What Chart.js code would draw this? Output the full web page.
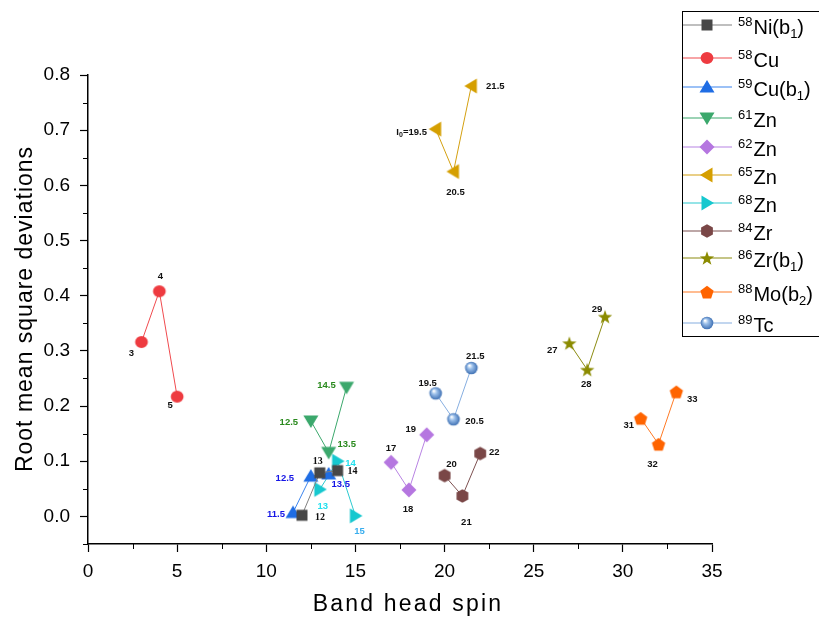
<!DOCTYPE html>
<html>
<head>
<meta charset="utf-8">
<script src="https://cdn.jsdelivr.net/npm/chart.js@4.4.0/dist/chart.umd.min.js"></script>
<style>
html, body { margin: 0; padding: 0; background: #fff; }
</style>
</head>
<body>
<canvas id="rmsChart" width="819" height="617"></canvas>
<script>
// band head spin (x) vs rms deviation (y), one group per nucleus
var ni58Spin = [12, 13, 14];
var ni58Rms = [0.002, 0.079, 0.083];
var ni58Labels = ['12', '13', '14'];

var cu58Spin = [3, 4, 5];
var cu58Rms = [0.316, 0.408, 0.217];
var cu58Labels = ['3', '4', '5'];

var cu59Spin = [11.5, 12.5, 13.5];
var cu59Rms = [0.007, 0.073, 0.077];
var cu59Labels = ['11.5', '12.5', '13.5'];

var zn61Spin = [12.5, 13.5, 14.5];
var zn61Rms = [0.173, 0.116, 0.234];
var zn61Labels = ['12.5', '13.5', '14.5'];

var zn62Spin = [17, 18, 19];
var zn62Rms = [0.098, 0.048, 0.148];
var zn62Labels = ['17', '18', '19'];

var zn65Spin = [19.5, 20.5, 21.5];
var zn65Rms = [0.702, 0.625, 0.780];
var zn65Labels = ['I_0=19.5', '20.5', '21.5'];

var zn68Spin = [13, 14, 15];
var zn68Rms = [0.049, 0.100, 0.001];
var zn68Labels = ['13', '14', '15'];

var zr84Spin = [20, 21, 22];
var zr84Rms = [0.074, 0.037, 0.114];
var zr84Labels = ['20', '21', '22'];

var zr86Spin = [27, 28, 29];
var zr86Rms = [0.314, 0.266, 0.362];
var zr86Labels = ['27', '28', '29'];

var mo88Spin = [31, 32, 33];
var mo88Rms = [0.178, 0.131, 0.226];
var mo88Labels = ['31', '32', '33'];

var tc89Spin = [19.5, 20.5, 21.5];
var tc89Rms = [0.223, 0.176, 0.269];
var tc89Labels = ['19.5', '20.5', '21.5'];

// legend names: [mass number, symbol, subscript, closing]
var legendNames = [
    ['58', 'Ni(b', '1', ')'],
    ['58', 'Cu'],
    ['59', 'Cu(b', '1', ')'],
    ['61', 'Zn'],
    ['62', 'Zn'],
    ['65', 'Zn'],
    ['68', 'Zn'],
    ['84', 'Zr'],
    ['86', 'Zr(b', '1', ')'],
    ['88', 'Mo(b', '2', ')'],
    ['89', 'Tc'],
];

var xTickValues = [0, 5, 10, 15, 20, 25, 30, 35];
var xMinorValues = [2.5, 7.5, 12.5, 17.5, 22.5, 27.5, 32.5];
var yTickValues = [0.0, 0.1, 0.2, 0.3, 0.4, 0.5, 0.6, 0.7, 0.8];
var yMinorValues = [-0.05, 0.05, 0.15, 0.25, 0.35, 0.45, 0.55, 0.65, 0.75];
var xTitle = 'Band head spin';
var yTitle = 'Root mean square deviations';

var FONT = '"Liberation Sans", Arial, sans-serif';

function makeMarker(shape, fill) {
    var c = document.createElement('canvas');
    c.width = 20;
    c.height = 20;
    var g = c.getContext('2d');
    g.translate(10, 10);
    g.fillStyle = fill;
    g.beginPath();
    var k, a;
    if (shape === 'square') {
        g.rect(-5.5, -5.5, 11, 11);
    } else if (shape === 'circle') {
        g.ellipse(0, 0, 6.4, 6, 0, 0, Math.PI * 2);
    } else if (shape === 'diamond') {
        g.moveTo(0, -7.5); g.lineTo(7.5, 0); g.lineTo(0, 7.5); g.lineTo(-7.5, 0);
        g.closePath();
    } else if (shape === 'hexagon') {
        for (k = 0; k < 6; k++) {
            a = -Math.PI / 2 + k * Math.PI / 3;
            g.lineTo(6.8 * Math.cos(a), 6.8 * Math.sin(a));
        }
        g.closePath();
    } else if (shape === 'pentagon') {
        for (k = 0; k < 5; k++) {
            a = -Math.PI / 2 + k * 2 * Math.PI / 5;
            g.lineTo(7 * Math.cos(a), 7 * Math.sin(a) + 0.8);
        }
        g.closePath();
    } else if (shape === 'star') {
        for (k = 0; k < 10; k++) {
            a = -Math.PI / 2 + k * Math.PI / 5;
            var r = k % 2 ? 3 : 7.5;
            g.lineTo(r * Math.cos(a), r * Math.sin(a) + 0.8);
        }
        g.closePath();
    } else if (shape === 'sphere') {
        var grad = g.createRadialGradient(-2, -2.5, 0.5, 0, 0, 6.5);
        grad.addColorStop(0, '#ffffff');
        grad.addColorStop(0.35, '#9cc0ea');
        grad.addColorStop(1, '#3c6eb2');
        g.fillStyle = grad;
        g.arc(0, 0, 6.3, 0, Math.PI * 2);
    } else {
        // triangles, rotated from the up one
        var rot = { triUp: 0, triDown: Math.PI, triLeft: -Math.PI / 2, triRight: Math.PI / 2 }[shape];
        g.rotate(rot);
        g.moveTo(0, -7); g.lineTo(7.5, 5.5); g.lineTo(-7.5, 5.5);
        g.closePath();
    }
    g.fill();
    return c;
}

var series = [
    { name: legendNames[0], spin: ni58Spin, rms: ni58Rms, labels: ni58Labels,
      marker: makeMarker('square', '#474747'), line: '#808080',
      labelColor: '#111', labelFont: 'bold 10px "Liberation Serif", serif',
      offsets: [[18, 2], [-2, -11], [15, 1]] },
    { name: legendNames[1], spin: cu58Spin, rms: cu58Rms, labels: cu58Labels,
      marker: makeMarker('circle', '#ee3b40'), line: '#f04a4e',
      labelColor: '#111', offsets: [[-10, 11], [1, -15], [-7, 9]] },
    { name: legendNames[2], spin: cu59Spin, rms: cu59Rms, labels: cu59Labels,
      marker: makeMarker('triUp', '#1f6de4'), line: '#3b84ee',
      labelColor: '#1414e6', offsets: [[-17, 2], [-26, 2], [12, 10]] },
    { name: legendNames[3], spin: zn61Spin, rms: zn61Rms, labels: zn61Labels,
      marker: makeMarker('triDown', '#3ba86c'), line: '#3ba86c',
      labelColor: '#2a8a1e', offsets: [[-22, 1], [18, -8], [-20, -2]] },
    { name: legendNames[4], spin: zn62Spin, rms: zn62Rms, labels: zn62Labels,
      marker: makeMarker('diamond', '#b576e0'), line: '#b883e3',
      labelColor: '#111', offsets: [[0, -14], [-1, 19], [-16, -5]] },
    { name: legendNames[5], spin: zn65Spin, rms: zn65Rms, labels: zn65Labels,
      marker: makeMarker('triLeft', '#d59f00'), line: '#d4a010',
      labelColor: '#111', offsets: [[-24, 3], [2, 21], [24, 0]] },
    { name: legendNames[6], spin: zn68Spin, rms: zn68Rms, labels: zn68Labels,
      marker: makeMarker('triRight', '#16c8cf'), line: '#2ccad0',
      labelColor: ['#22e0ee', '#22e0ee', '#3aaeee'], offsets: [[3, 17], [13, 2], [4, 16]] },
    { name: legendNames[7], spin: zr84Spin, rms: zr84Rms, labels: zr84Labels,
      marker: makeMarker('hexagon', '#7a4747'), line: '#7d5050',
      labelColor: '#111', offsets: [[7, -11], [4, 26], [14, -1]] },
    { name: legendNames[8], spin: zr86Spin, rms: zr86Rms, labels: zr86Labels,
      marker: makeMarker('star', '#8b8b00'), line: '#8b8b10',
      labelColor: '#111', offsets: [[-17, 7], [-1, 15], [-8, -7]] },
    { name: legendNames[9], spin: mo88Spin, rms: mo88Rms, labels: mo88Labels,
      marker: makeMarker('pentagon', '#ff6400'), line: '#ff7a25',
      labelColor: '#111', offsets: [[-12, 7], [-6, 20], [16, 8]] },
    { name: legendNames[10], spin: tc89Spin, rms: tc89Rms, labels: tc89Labels,
      marker: makeMarker('sphere', '#6a9ad4'), line: '#86aee0',
      labelColor: '#111', offsets: [[-8, -10], [21, 2], [4, -12]] },
];

function drawLabel(ctx, text, x, y, font, color) {
    ctx.save();
    ctx.fillStyle = color;
    ctx.textBaseline = 'middle';
    ctx.font = font;
    var parts = text.split('_');
    if (parts.length === 1) {
        ctx.textAlign = 'center';
        ctx.fillText(text, x, y);
    } else {
        var head = parts[0], sub = parts[1].charAt(0), tail = parts[1].slice(1);
        var subFont = font.replace(/[\d.]+px/, '7px');
        var w1 = ctx.measureText(head).width;
        var w3 = ctx.measureText(tail).width;
        ctx.font = subFont;
        var w2 = ctx.measureText(sub).width;
        var sx = x - (w1 + w2 + w3) / 2;
        ctx.textAlign = 'left';
        ctx.font = font;
        ctx.fillText(head, sx, y);
        ctx.font = subFont;
        ctx.fillText(sub, sx + w1, y + 3);
        ctx.font = font;
        ctx.fillText(tail, sx + w1 + w2, y);
    }
    ctx.restore();
}

var legendRows = [25, 58, 87, 118, 147, 175, 203, 231, 258, 292, 323];

var annotatePlugin = {
    id: 'annotate',
    afterDatasetsDraw: function (chart) {
        var ctx = chart.ctx;
        series.forEach(function (s, i) {
            var meta = chart.getDatasetMeta(i);
            meta.data.forEach(function (pt, j) {
                var col = Array.isArray(s.labelColor) ? s.labelColor[j] : s.labelColor;
                var font = s.labelFont || 'bold 9.5px ' + FONT;
                drawLabel(ctx, s.labels[j], pt.x + s.offsets[j][0], pt.y + s.offsets[j][1], font, col);
            });
        });
    },
    afterDraw: function (chart) {
        var ctx = chart.ctx;
        var xs = chart.scales.x, ys = chart.scales.y;
        var area = chart.chartArea;
        ctx.save();

        // minor ticks
        ctx.strokeStyle = '#000';
        ctx.lineWidth = 1;
        ctx.beginPath();
        xMinorValues.forEach(function (v) {
            var px = Math.round(xs.getPixelForValue(v)) + 0.5;
            ctx.moveTo(px, area.bottom);
            ctx.lineTo(px, area.bottom + 5);
        });
        yMinorValues.forEach(function (v) {
            var py = Math.round(ys.getPixelForValue(v)) + 0.5;
            ctx.moveTo(area.left - 5, py);
            ctx.lineTo(area.left, py);
        });
        ctx.stroke();

        // axis titles
        ctx.fillStyle = '#000';
        ctx.font = '23px ' + FONT;
        ctx.textAlign = 'center';
        ctx.textBaseline = 'alphabetic';
        ctx.letterSpacing = '2.2px';
        ctx.fillText(xTitle, 408, 611);
        ctx.save();
        ctx.translate(32, 309);
        ctx.rotate(-Math.PI / 2);
        ctx.letterSpacing = '1px';
        ctx.fillText(yTitle, 0, 0);
        ctx.restore();
        ctx.letterSpacing = '0px';

        // legend box
        ctx.strokeStyle = '#000';
        ctx.lineWidth = 1;
        ctx.strokeRect(682.5, 11.5, 160, 325);
        series.forEach(function (s, i) {
            var y = legendRows[i];
            var n = s.name;
            ctx.strokeStyle = s.line;
            ctx.lineWidth = 1.2;
            ctx.beginPath();
            ctx.moveTo(683, y);
            ctx.lineTo(732, y);
            ctx.stroke();
            ctx.drawImage(s.marker, 707 - 10, y - 10);

            var x = 738;
            ctx.fillStyle = '#000';
            ctx.textAlign = 'left';
            ctx.font = '13px ' + FONT;
            ctx.fillText(n[0], x, y + 1);
            x += ctx.measureText(n[0]).width + 1;
            ctx.font = '20px ' + FONT;
            ctx.fillText(n[1], x, y + 8.5);
            x += ctx.measureText(n[1]).width;
            if (n[2]) {
                ctx.font = '13px ' + FONT;
                ctx.fillText(n[2], x, y + 13);
                x += ctx.measureText(n[2]).width;
                ctx.font = '20px ' + FONT;
                ctx.fillText(n[3], x, y + 8.5);
            }
        });
        ctx.restore();
    }
};

Chart.defaults.font.family = FONT;
Chart.defaults.color = '#000';

var rmsChartCanvas = document.getElementById('rmsChart').getContext('2d');
var rmsChart = new Chart(rmsChartCanvas, {
    type: 'scatter',
    data: {
        datasets: series.map(function (s) {
            return {
                label: s.name.join(''),
                data: s.spin.map(function (v, i) { return { x: v, y: s.rms[i] }; }),
                showLine: true,
                borderColor: s.line,
                backgroundColor: s.line,
                borderWidth: 1,
                pointStyle: s.marker,
                pointRadius: 7,
                fill: false,
            };
        }),
    },
    options: {
        responsive: false,
        animation: false,
        events: [],
        layout: { padding: { left: 0, top: 75, right: 107, bottom: 0 } },
        plugins: {
            legend: { display: false },
            tooltip: { enabled: false },
        },
        scales: {
            x: {
                type: 'linear',
                min: 0,
                max: 35,
                afterBuildTicks: function (scale) {
                    scale.ticks = xTickValues.map(function (v) { return { value: v }; });
                },
                afterFit: function (scale) { scale.height = 73; },
                ticks: { font: { size: 19 }, padding: 8, maxRotation: 0 },
                grid: { drawOnChartArea: false, drawTicks: true, tickLength: 8, tickColor: '#000', tickWidth: 1.2 },
                border: { display: true, color: '#000', width: 1.5 },
            },
            y: {
                type: 'linear',
                min: -0.05,
                max: 0.8,
                afterBuildTicks: function (scale) {
                    scale.ticks = yTickValues.map(function (v) { return { value: v }; });
                },
                afterFit: function (scale) { scale.width = 88; },
                ticks: {
                    font: { size: 19 },
                    padding: 10,
                    callback: function (v) { return Number(v).toFixed(1); },
                },
                grid: { drawOnChartArea: false, drawTicks: true, tickLength: 8, tickColor: '#000', tickWidth: 1.2 },
                border: { display: true, color: '#000', width: 1.5 },
            },
        },
    },
    plugins: [annotatePlugin],
});
</script>
</body>
</html>
